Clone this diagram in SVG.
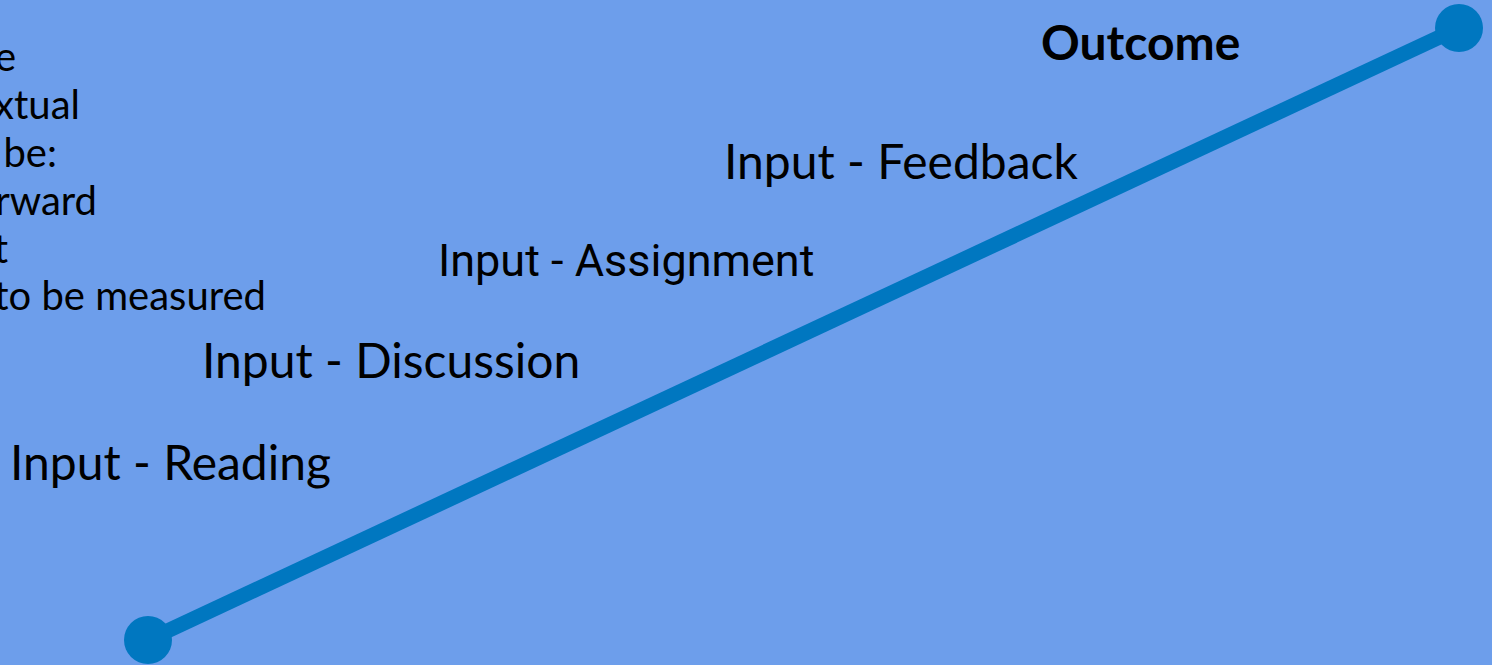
<svg xmlns="http://www.w3.org/2000/svg" width="1492" height="665" viewBox="0 0 1492 665">
<style>
.lbl{font-family:Lato,"Noto Sans",sans-serif;fill:#000;font-size:48px}
.rob{font-family:Roboto,sans-serif;fill:#000;font-size:45px}
.side{font-family:Lato,"Noto Sans",sans-serif;font-size:40px;fill:#000;text-anchor:end}
</style>
<rect x="0" y="0" width="1492" height="665" fill="#6D9EEB"/>
<g id="notes">
<text class="side" x="16" y="71">e</text>
<text class="side" x="80" y="119">xtual</text>
<text class="side" x="57" y="167">be:</text>
<text class="side" x="97" y="215">rward</text>
<text class="side" x="8" y="263">t</text>
<text class="side" x="266" y="310">to be measured</text>
</g>
<g id="connectors">
<line x1="148" y1="640" x2="1459" y2="28" stroke="#0077C0" stroke-width="15"/>
</g>
<g id="start"><circle cx="148" cy="640" r="24" fill="#0077C0"/></g>
<g id="end"><circle cx="1459" cy="28" r="24" fill="#0077C0"/></g>
<g id="reading"><text class="lbl" x="10" y="480">Input - Reading</text></g>
<g id="discussion"><text class="lbl" x="202" y="378">Input - Discussion</text></g>
<g id="assignment"><text class="rob" x="438" y="276">Input - Assignment</text></g>
<g id="feedback"><text class="lbl" x="724" y="179">Input - Feedback</text></g>
<g id="outcome"><text class="lbl" x="1041" y="60" font-weight="bold">Outcome</text></g>
</svg>
